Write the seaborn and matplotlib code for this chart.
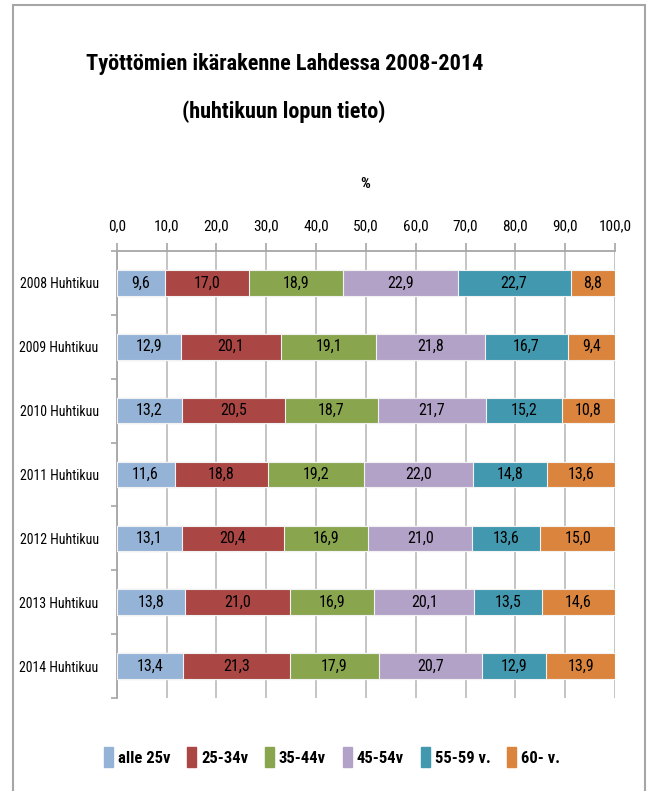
import matplotlib
matplotlib.use('Agg')
import matplotlib.pyplot as plt
import matplotlib.patches as mpatches
from matplotlib import font_manager
import seaborn as sns
import pandas as pd
import numpy as np

# data
categories = ['2008 Huhtikuu', '2009 Huhtikuu', '2010 Huhtikuu', '2011 Huhtikuu',
              '2012 Huhtikuu', '2013 Huhtikuu', '2014 Huhtikuu']
series = ['alle 25v', '25-34v', '35-44v', '45-54v', '55-59 v.', '60- v.']
alle_25 = [9.6, 12.9, 13.2, 11.6, 13.1, 13.8, 13.4]
v25_34 = [17.0, 20.1, 20.5, 18.8, 20.4, 21.0, 21.3]
v35_44 = [18.9, 19.1, 18.7, 19.2, 16.9, 16.9, 17.9]
v45_54 = [22.9, 21.8, 21.7, 22.0, 21.0, 20.1, 20.7]
v55_59 = [22.7, 16.7, 15.2, 14.8, 13.6, 13.5, 12.9]
v60 = [8.8, 9.4, 10.8, 13.6, 15.0, 14.6, 13.9]
x_ticks = [0, 10, 20, 30, 40, 50, 60, 70, 80, 90, 100]

colors = ['#95B3D7', '#AA4643', '#89A54E', '#B3A2C7', '#4198AF', '#DB843D']

sns.set_style('white')
# look for a narrow face, the original uses a condensed one
names = {f.name for f in font_manager.fontManager.ttflist}
family = 'DejaVu Sans'
for cand in ['Liberation Sans Narrow', 'Roboto Condensed', 'Open Sans Condensed']:
    if cand in names:
        family = cand
        break
plt.rcParams['font.family'] = [family, 'DejaVu Sans']
plt.rcParams['text.color'] = 'black'
plt.rcParams['xtick.color'] = 'black'
plt.rcParams['ytick.color'] = 'black'
k = 1.0 if family != 'DejaVu Sans' else 0.8

df = pd.DataFrame({'cat': categories})
vals = [alle_25, v25_34, v35_44, v45_54, v55_59, v60]
for name, v in zip(series, vals):
    df[name] = v
cum = df[series].cumsum(axis=1)

fig = plt.figure(figsize=(6.51, 7.91), dpi=100)
ax = fig.add_axes([116.7 / 651, 1 - 698 / 791, (615 - 116.7) / 651, (698 - 251) / 791])

# stacked bars: draw cumulative totals from the outermost segment inwards
for name, col in reversed(list(zip(series, colors))):
    sns.barplot(x=cum[name], y=df['cat'], color=col, saturation=1, orient='h', width=0.4,
                edgecolor='#F2F2F2', linewidth=0.8, ax=ax, zorder=3)

# value labels in the middle of each segment
for i in range(len(categories)):
    for name in series:
        mid = cum.loc[i, name] - df.loc[i, name] / 2
        ax.text(mid, i, f'{df.loc[i, name]:.1f}'.replace('.', ','), ha='center', va='center',
                fontsize=11.5 * k, color='black', zorder=4)

ax.set_xlim(0, 100)
ax.set_ylim(6.5, -0.5)
ax.xaxis.tick_top()
ax.set_xticks(x_ticks)
ax.set_xticklabels([f'{t:.1f}'.replace('.', ',') for t in x_ticks], fontsize=11 * k)
ax.tick_params(axis='x', which='major', direction='out', length=6, color='#A6A6A6', width=1.2,
               pad=7, top=True, bottom=False)
ax.set_yticks(range(len(categories)))
ax.set_yticklabels(categories, fontsize=10 * k)
ax.set_yticks(np.arange(-0.5, 7, 1), minor=True)
ax.tick_params(axis='y', which='major', length=0, pad=13)
ax.tick_params(axis='y', which='minor', direction='out', length=4, color='#A6A6A6', width=1.2, left=True)
ax.set_xlabel('')
ax.set_ylabel('')
ax.grid(axis='x', color='#BFBFBF', linewidth=1.3, zorder=0)
ax.set_axisbelow(True)
for s in ['right', 'bottom']:
    ax.spines[s].set_visible(False)
for s in ['left', 'top']:
    ax.spines[s].set_color('#A6A6A6')
    ax.spines[s].set_linewidth(1.3)

fig.text(365 / 651, 1 - 184 / 791, '%', ha='center', va='center', fontsize=11, fontweight='bold')
fig.text(284.5 / 651, 1 - 64 / 791, 'Työttömien ikärakenne Lahdessa 2008-2014', ha='center', va='center',
         fontsize=16 * k, fontweight='bold')
fig.text(283.5 / 651, 1 - 112 / 791, '(huhtikuun lopun tieto)', ha='center', va='center',
         fontsize=16 * k, fontweight='bold')

handles = [mpatches.Patch(color=c, label=s) for s, c in zip(series, colors)]
fig.legend(handles=handles, loc='center', bbox_to_anchor=(332 / 651, 1 - 757 / 791), ncol=6,
           frameon=False, prop={'size': 12 * k, 'weight': 'bold'}, handlelength=0.55, handleheight=1.4,
           handletextpad=0.3, columnspacing=1.0)

# chart frame
fig.add_artist(mpatches.Rectangle((13 / 651, -0.05), (645 - 13) / 651, 1 - 5 / 791 + 0.05,
                                  transform=fig.transFigure, fill=False, edgecolor='#A6A6A6', linewidth=1.5))

fig.savefig('out.png', dpi=100)
